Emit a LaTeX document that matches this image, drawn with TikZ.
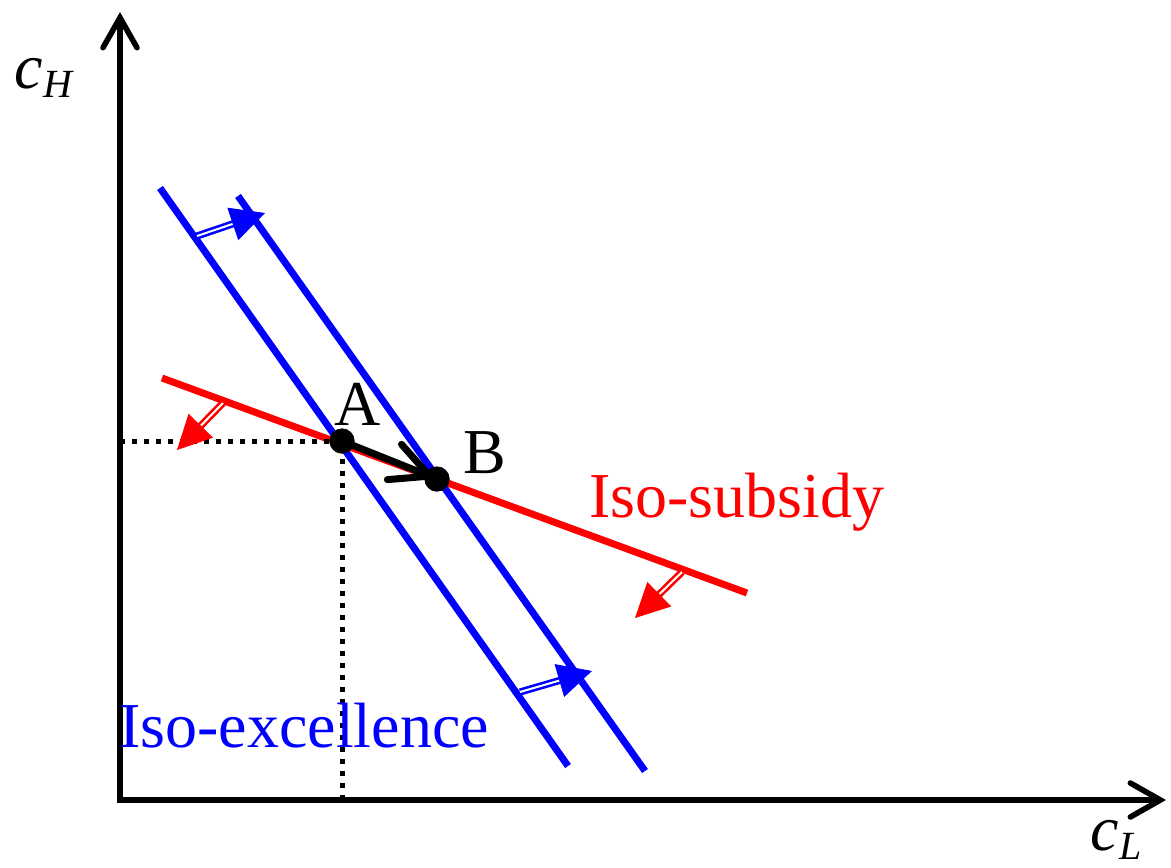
\documentclass[tikz,border=0pt]{standalone}
\usepackage{fontspec}
\setmainfont{Liberation Serif}
\usetikzlibrary{arrows.meta,calc}

\newcommand{\csub}[1]{\textit{c}\kern0.5pt\raisebox{-4.5pt}{\fontsize{20}{20}\selectfont\textit{#1}}}

\begin{document}
\begin{tikzpicture}[x=0.5pt,y=-0.5pt, font=\fontsize{32}{36}\selectfont,
 axis/.style={line width=2.8pt,{Straight Barb[length=15pt,width=17pt,line cap=round]}-{Straight Barb[length=15pt,width=17pt,line cap=round]}},
 iso/.style={line width=3.5pt},
 guide/.style={line width=2.5pt,dash pattern=on 2.5pt off 3.5pt},
 dot/.style={circle,fill=black,inner sep=0pt,minimum size=12.5pt},
 moveline/.style={line width=1.3pt,double=white,double distance=1pt},
 head/.style={line width=0.4pt,-{Triangle[length=17pt,width=17pt]}}]
\useasboundingbox (0,0) rectangle (1171,867);

% axes
\coordinate (O) at (120,800);
\coordinate (ytop) at (120,12);
\coordinate (xend) at (1166,800);
\draw[axis] (ytop) -- (O) -- (xend);
\node[anchor=base west,inner sep=0pt] (cH) at (14,88) {\csub{H}};
\node[anchor=base west,inner sep=0pt] (cL) at (1090,850) {\csub{L}};

% iso-subsidy line
\draw[iso,red] (162,378) -- (747,593);
% iso-excellence lines
\draw[iso,blue] (160,188) -- (568,766);
\draw[iso,blue] (238,196) -- (645,771);

\node[dot] (A) at (342,441) {};
\node[dot] (B) at (437,479) {};

% guides to the axes
\coordinate (Ay) at (120,441);
\coordinate (Ax) at (342,800);
\draw[guide] (Ay) -- (A.center) -- (Ax);

% shift of the lines
\coordinate (s1) at (197,236); \coordinate (t1) at (265,213);
\coordinate (s2) at (520,692); \coordinate (t2) at (592,671);
\coordinate (s3) at (223,403); \coordinate (t3) at (177,450);
\coordinate (s4) at (682,572); \coordinate (t4) at (635,618);
\foreach \i/\c in {1/blue,2/blue,3/red,4/red}{
  \draw[moveline,\c] (s\i) -- ($(t\i)!15pt!(s\i)$);
  \draw[head,\c] ($(t\i)!17pt!(s\i)$) -- (t\i);
}

\draw[line width=3.5pt,-{Straight Barb[length=19pt,width=19pt,line cap=round]}] (A.center) -- (B.center);
\node[dot] at (A) {};
\node[dot] at (B) {};

\node[anchor=base] (la) at (358,425) {A};
\node[anchor=base] (lb) at (485,473) {B};
\node[anchor=base,red] (sub) at (737,517) {Iso-subsidy};
\node[anchor=base,blue] (exc) at (304,747) {Iso-excellence};
\end{tikzpicture}
\end{document}
